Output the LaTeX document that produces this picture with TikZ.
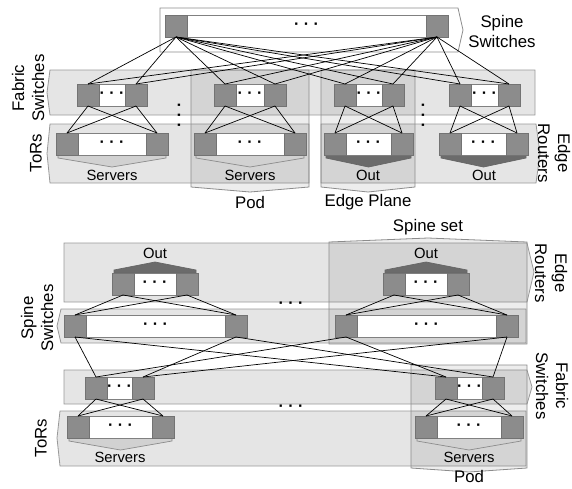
\documentclass[tikz,border=0pt]{standalone}
\usepackage{fontspec}
\setmainfont{Liberation Sans}
\newcommand{\swtch}[4]{%
  \draw[swmid] (#2,#4) rectangle (#3,#4+22);
  \node[swsq] (#1l) at (#2+11,#4+11) {};
  \node[swsq] (#1r) at (#3-11,#4+11) {};
  \node[swdots] (#1d) at ({(#2+#3)/2},#4+11) {· · ·};
}
\newcommand{\srvdn}[4]{% style, xl, xr, ytop
  \draw[#1] (#2+2,#4) -- (#2+2,#4+3) -- ({(#2+#3)/2},#4+12) -- (#3-2,#4+3) -- (#3-2,#4) -- cycle;
}
\newcommand{\srvup}[4]{% style, xl, xr, ybottom
  \draw[#1] (#2+2,#4) -- (#2+2,#4-3) -- ({(#2+#3)/2},#4-11) -- (#3-2,#4-3) -- (#3-2,#4) -- cycle;
}
\begin{document}
\begin{tikzpicture}[x=1pt,y=-1pt,
  band/.style={fill=black!10, draw=black!40, line width=0.8pt},
  ovl/.style={fill=black, fill opacity=0.07, draw=black!45, draw opacity=1, line width=0.8pt},
  swmid/.style={fill=white, draw=black!50, line width=0.8pt},
  swsq/.style={fill=black!45, draw=black!55, line width=0.8pt, minimum width=22pt, minimum height=22pt, inner sep=0pt, outer sep=0pt},
  swdots/.style={font=\bfseries\fontsize{16}{16}\selectfont, inner sep=0pt},
  srvs/.style={fill=black!18, draw=black!45, line width=0.7pt},
  outs/.style={fill=black!58, draw=black!60, line width=0.7pt},
  link/.style={black, line width=0.7pt},
  lbl/.style={font=\fontsize{16.8}{20}\selectfont, align=center, inner sep=0pt},
  sml/.style={font=\fontsize{14.8}{17}\selectfont, inner sep=0pt},
]
\useasboundingbox (0,0) rectangle (572,488);

% ===================== TOP FIGURE =====================
% spine outer box
\draw[fill=white, draw=black!45, line width=0.8pt] (160,8) -- (458,8) -- (463,30) -- (458,52) -- (160,52) -- cycle;
% bands
\draw[band] (50,70) -- (535,70) -- (535,115) -- (50,115) -- (47,92.5) -- cycle;
\draw[band] (50,124) -- (309,124) -- (309,183) -- (50,183) -- (47,153.5) -- cycle;
\draw[band] (321,124) -- (536,124) -- (540,153.5) -- (536,183) -- (321,183) -- cycle;
% overlays: pod and edge plane
\draw[ovl] (191,70) -- (309,70) -- (309,187) -- (250,192) -- (191,187) -- cycle;
\draw[ovl] (321,70) -- (415,70) -- (415,187) -- (368,192) -- (321,187) -- cycle;

% servers / out shapes
\srvdn{srvs}{56}{168}{155}
\srvdn{srvs}{194}{306}{155}
\srvdn{outs}{324}{413}{155}
\srvdn{outs}{439}{528}{155}

% switches
\swtch{s}{165}{448}{15}
\swtch{f1}{77}{147}{84}
\swtch{f2}{214}{286}{84}
\swtch{f3}{334}{404}{84}
\swtch{f4}{449}{520}{84}
\swtch{t1}{56}{168}{133}
\swtch{t2}{194}{306}{133}
\swtch{t3}{324}{413}{133}
\swtch{t4}{439}{528}{133}

% links
\foreach \s in {sl,sr}
  \foreach \f in {f1l,f1r,f2l,f2r,f3l,f3r,f4l,f4r}
    \draw[link] (\s.south) -- (\f.north);
\foreach \k in {1,...,4}
  \foreach \a in {l,r}
    \foreach \b in {l,r}
      \draw[link] (f\k\a.south) -- (t\k\b.north);

% vertical dots
\node[swdots, rotate=90] (vd1) at (181,115) {· · ·};
\node[swdots, rotate=90] (vd2) at (425,115) {· · ·};

% labels
\node[lbl] (lSpineT) at (502,31) {Spine\\Switches};
\node[lbl, rotate=90] (lFabT) at (28,88) {Fabric\\Switches};
\node[lbl, rotate=90] (lTorT) at (36,153) {ToRs};
\node[lbl, rotate=-90] (lEdgeT) at (554,153) {Edge\\Routers};
\node[sml] (sv1) at (112,175) {Servers};
\node[sml] (sv2) at (250,175) {Servers};
\node[sml] (o1) at (368,175) {Out};
\node[sml] (o2) at (484,175) {Out};
\node[lbl] (lPodT) at (250,202) {Pod};
\node[lbl] (lEP) at (368,202) {Edge Plane};

% ===================== BOTTOM FIGURE =====================
\draw[band] (64,243) -- (527,243) -- (534,272) -- (527,302) -- (64,302) -- cycle;
\draw[band] (61,309) -- (526,309) -- (526,343) -- (61,343) -- (57,326) -- cycle;
\draw[band] (64,370) -- (527,370) -- (532,387) -- (527,404) -- (64,404) -- cycle;
\draw[band] (60,411) -- (526,411) -- (526,466) -- (60,466) -- (57,438) -- cycle;
% overlays: spine set and pod
\draw[ovl] (329,242) -- (428,238) -- (527,242) -- (527,344) -- (329,344) -- cycle;
\draw[ovl] (411,365) -- (527,365) -- (527,468) -- (469,472) -- (411,468) -- cycle;

% out / servers shapes
\srvup{outs}{112}{198}{273}
\srvup{outs}{383}{469}{273}
\srvdn{srvs}{67}{174}{438}
\srvdn{srvs}{415}{523}{438}

% switches
\swtch{e1}{112}{198}{273}
\swtch{e2}{383}{469}{273}
\swtch{p1}{64}{247}{315}
\swtch{p2}{335}{518}{315}
\swtch{g1}{85}{154}{377}
\swtch{g2}{435}{504}{377}
\swtch{u1}{67}{174}{416}
\swtch{u2}{415}{523}{416}

% links
\foreach \k in {1,2}
  \foreach \a in {l,r}
    \foreach \b in {l,r} {
      \draw[link] (e\k\a.south) -- (p\k\b.north);
      \draw[link] (g\k\a.south) -- (u\k\b.north);
    }
\foreach \k in {1,2}
  \foreach \a in {l,r}
    \foreach \m in {1,2}
      \draw[link] (p\k\a.south) -- (g\m\a.north);

% horizontal dots
\node[swdots] (hd1) at (291,305) {· · ·};
\node[swdots] (hd2) at (291,408) {· · ·};

% labels
\node[lbl] (lSS) at (428,227) {Spine set};
\node[sml] (o3) at (155,253) {Out};
\node[sml] (o4) at (426,253) {Out};
\node[lbl, rotate=-90] (lEdgeB) at (551,273) {Edge\\Routers};
\node[lbl, rotate=90] (lSpineB) at (37,318) {Spine\\Switches};
\node[lbl, rotate=-90] (lFabB) at (552,386) {Fabric\\Switches};
\node[lbl, rotate=90] (lTorB) at (41,438) {ToRs};
\node[sml] (sv3) at (120,457) {Servers};
\node[sml] (sv4) at (469,457) {Servers};
\node[lbl] (lPodB) at (469,476.5) {Pod};
\end{tikzpicture}
\end{document}
